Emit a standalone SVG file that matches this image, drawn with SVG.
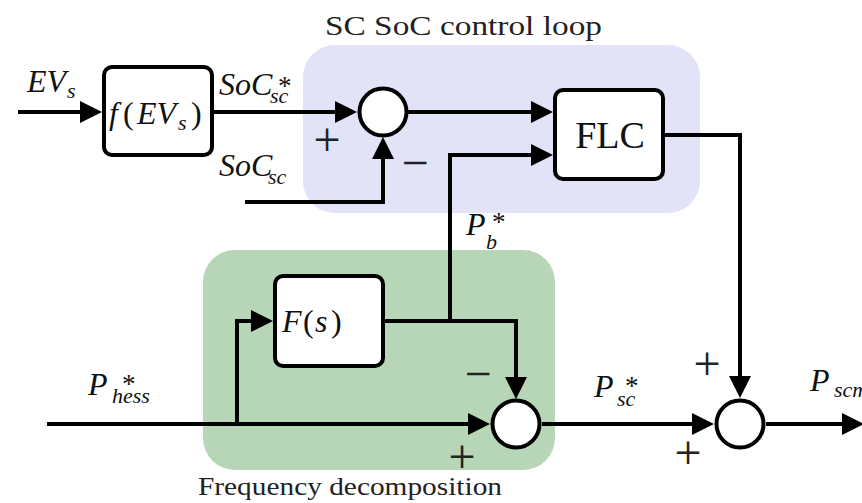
<svg xmlns="http://www.w3.org/2000/svg" width="862" height="503" viewBox="0 0 862 503">
<style>
text{font-family:'Liberation Serif','DejaVu Serif','Noto Serif',serif}
.m{font-style:italic;font-size:32px;fill:#111}
.sub{font-size:22px}
.st{font-size:27px;font-style:normal}
.r{font-style:normal;fill:#111}
.lbl{fill:#222}
.pm{font-size:48px;fill:#222;text-anchor:middle}
.box{fill:#fff;stroke:#000;stroke-width:4}
.w{fill:none;stroke:#000;stroke-width:4}
</style>
<defs>
<marker id="ar" markerUnits="userSpaceOnUse" markerWidth="22" markerHeight="22" refX="18" refY="11" orient="auto">
<path d="M0,0 L22,11 L0,22 z" fill="#000"/>
</marker>
</defs>
<g id="regions">
<rect x="303" y="45" width="397" height="168" rx="32" fill="#e3e3f8"/>
<rect x="203" y="250" width="352" height="220" rx="32" fill="#b7d5b7"/>
<text class="lbl" x="325" y="35" font-size="28" textLength="277" lengthAdjust="spacingAndGlyphs">SC SoC control loop</text>
<text class="lbl" x="198" y="495" font-size="25" textLength="304" lengthAdjust="spacingAndGlyphs">Frequency decomposition</text>
</g>
<g id="connectors" marker-end="url(#ar)">
<path class="w" d="M18,112 H98"/>
<path class="w" d="M214,112 H353"/>
<path class="w" d="M407,112 H549"/>
<path class="w" d="M450,321 V155 H549"/>
<path class="w" d="M245,202 H383 V141"/>
<path class="w" d="M665,135 H740 V394"/>
<path class="w" d="M47,424 H486"/>
<path class="w" d="M237,424 V321 H269"/>
<path class="w" d="M385,321 H516 V395"/>
<path class="w" d="M542,424 H710"/>
<path class="w" d="M766,424 H860"/>
</g>
<g id="f_evs">
<rect class="box" x="104" y="67" width="108" height="88" rx="8"/>
<text class="m"><tspan x="109" y="124">f</tspan><tspan class="r" x="123" y="124">(</tspan><tspan x="137" y="124">EV</tspan><tspan class="sub" x="178" y="130">s</tspan><tspan class="r" x="191" y="124">)</tspan></text>
</g>
<g id="sum1">
<circle cx="383" cy="112" r="23.5" fill="#fff" stroke="#000" stroke-width="4"/>
</g>
<g id="flc">
<rect class="box" x="555" y="90" width="108" height="89" rx="8"/>
<text class="r" x="610" y="148" font-size="38" text-anchor="middle">FLC</text>
</g>
<g id="fs">
<rect class="box" x="275" y="276" width="108" height="90" rx="8"/>
<text class="m"><tspan x="282" y="332">F</tspan><tspan class="r" x="303" y="332">(</tspan><tspan x="315" y="332">s</tspan><tspan class="r" x="331" y="332">)</tspan></text>
</g>
<g id="sum2">
<circle cx="516" cy="424" r="23.5" fill="#fff" stroke="#000" stroke-width="4"/>
</g>
<g id="sum3">
<circle cx="740" cy="424" r="23.5" fill="#fff" stroke="#000" stroke-width="4"/>
</g>
<g id="labels">
<text class="m"><tspan x="27" y="92">EV</tspan><tspan class="sub" x="67" y="98">s</tspan></text>
<text class="m"><tspan x="219" y="95">SoC</tspan><tspan class="sub st" x="278" y="95">*</tspan><tspan class="sub" x="270" y="103">sc</tspan></text>
<text class="m"><tspan x="219" y="176">SoC</tspan><tspan class="sub" x="268" y="184">sc</tspan></text>
<text class="m"><tspan x="466" y="235">P</tspan><tspan class="sub st" x="492" y="231">*</tspan><tspan class="sub" x="486" y="249">b</tspan></text>
<text class="m"><tspan x="88" y="395">P</tspan><tspan class="sub st" x="122" y="393">*</tspan><tspan class="sub" x="112" y="403">hess</tspan></text>
<text class="m"><tspan x="594" y="397">P</tspan><tspan class="sub st" x="625" y="395">*</tspan><tspan class="sub" x="617" y="406">sc</tspan></text>
<text class="m"><tspan x="810" y="391">P</tspan><tspan class="sub" x="834" y="397">scm</tspan></text>
<text class="pm" x="327" y="156">+</text>
<text class="pm" x="415" y="179">−</text>
<text class="pm" x="478" y="390">−</text>
<text class="pm" x="462" y="473">+</text>
<text class="pm" x="707" y="380">+</text>
<text class="pm" x="688" y="469">+</text>
</g>
</svg>
